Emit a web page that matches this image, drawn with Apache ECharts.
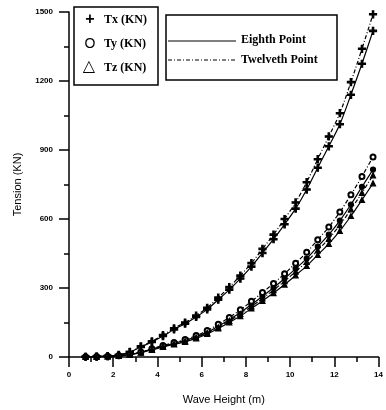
<!DOCTYPE html>
<html>
<head>
<meta charset="utf-8">
<script src="https://cdn.jsdelivr.net/npm/echarts@6/dist/echarts.min.js"></script>
<style>
  html, body { margin: 0; padding: 0; background: #fff; }
  #chart { width: 386px; height: 410px; }
</style>
</head>
<body>
<div id="chart"></div>
<script>
// wave height (m)
var waveHeight = [0.75, 1.25, 1.75, 2.25, 2.75, 3.25, 3.75, 4.25, 4.75, 5.25, 5.75, 6.25, 6.75, 7.25,
  7.75, 8.25, 8.75, 9.25, 9.75, 10.25, 10.75, 11.25, 11.75, 12.25, 12.75, 13.25, 13.75];

// tension (KN), eighth point
var txEighth = [1, 2, 4, 8, 21, 44, 65, 91, 120, 145, 174, 207, 249, 293,
  341, 393, 452, 512, 577, 645, 728, 823, 916, 1012, 1140, 1275, 1418];
var tyEighth = [1, 2, 3, 6, 11, 21, 34, 47, 59, 72, 88, 108, 134, 162,
  193, 228, 264, 301, 341, 384, 428, 480, 532, 593, 663, 740, 815];
var tzEighth = [1, 2, 3, 5, 10, 19, 31, 44, 55, 66, 81, 100, 124, 150,
  178, 211, 244, 278, 315, 355, 396, 444, 492, 548, 613, 683, 755];

// tension (KN), twelveth point
var txTwelveth = [1, 2, 4, 9, 22, 46, 68, 95, 125, 150, 180, 214, 258, 304,
  354, 408, 470, 532, 600, 672, 760, 860, 959, 1060, 1195, 1340, 1490];
var tyTwelveth = [1, 2, 3, 6, 12, 22, 36, 50, 63, 76, 93, 115, 142, 172,
  205, 242, 280, 320, 362, 408, 455, 510, 565, 630, 705, 785, 870];
var tzTwelveth = [1, 2, 3, 5, 11, 20, 33, 46, 57, 69, 85, 105, 129, 157,
  187, 220, 255, 291, 330, 371, 414, 464, 514, 573, 642, 714, 790];

var chart = echarts.init(document.getElementById("chart"));

var plusIcon = "path://M4,0h2v4h4v2h-4v4h-2v-4h-4v-2h4z";
var serif = "Liberation Serif";
var sans = "Liberation Sans";

function pairs(ys) {
  return waveHeight.map(function (h, i) { return [h, ys[i]]; });
}

function makeSeries(name, ys, symbol, dashed) {
  return {
    name: name,
    type: "line",
    data: pairs(ys),
    smooth: 0.3,
    symbol: symbol,
    symbolSize: symbol === plusIcon ? 7 : 5,
    itemStyle: { color: "#000", borderColor: "#000", borderWidth: 1.2 },
    lineStyle: { color: "#000", width: 1.2, type: dashed ? [4, 2, 1, 2] : "solid" },
    animation: false
  };
}

var option = {
  backgroundColor: "#fff",
  animation: false,
  grid: { left: 69, right: 4, top: 12, bottom: 48 },
  xAxis: {
    type: "value",
    min: 0, max: 14, interval: 2,
    name: "Wave Height (m)",
    nameLocation: "middle",
    nameGap: 37,
    nameTextStyle: { color: "#000", fontFamily: sans, fontSize: 11 },
    axisLine: { lineStyle: { color: "#000", width: 1.5 } },
    axisTick: { length: 10, lineStyle: { color: "#000", width: 1.5 } },
    minorTick: { show: true, splitNumber: 2, length: 5, lineStyle: { color: "#000", width: 1.5 } },
    axisLabel: { color: "#000", fontFamily: sans, fontWeight: "bold", fontSize: 8, margin: 14 },
    splitLine: { show: false }
  },
  yAxis: {
    type: "value",
    min: 0, max: 1500, interval: 300,
    name: "Tension (KN)",
    nameLocation: "middle",
    nameGap: 46,
    nameTextStyle: { color: "#000", fontFamily: sans, fontSize: 11 },
    axisLine: { show: true, lineStyle: { color: "#000", width: 1.5 } },
    axisTick: { show: true, length: 10, lineStyle: { color: "#000", width: 1.5 } },
    minorTick: { show: true, splitNumber: 2, length: 5, lineStyle: { color: "#000", width: 1.5 } },
    axisLabel: {
      color: "#000", fontFamily: sans, fontWeight: "bold", fontSize: 8, margin: 16,
      formatter: function (v) { return String(v); }
    },
    splitLine: { show: false }
  },
  series: [
    makeSeries("Tx Eighth", txEighth, plusIcon, false),
    makeSeries("Ty Eighth", tyEighth, "circle", false),
    makeSeries("Tz Eighth", tzEighth, "triangle", false),
    makeSeries("Tx Twelveth", txTwelveth, plusIcon, true),
    makeSeries("Ty Twelveth", tyTwelveth, "emptyCircle", true),
    makeSeries("Tz Twelveth", tzTwelveth, "triangle", true)
  ],
  graphic: [
    // symbol legend
    { type: "rect", z: 100, shape: { x: 74, y: 7, width: 84, height: 78 },
      style: { fill: "#fff", stroke: "#000", lineWidth: 1.5 } },
    { type: "text", z: 101, x: 90, y: 20, style: { text: "+", fill: "#000", font: "bold 16px " + sans, align: "center", verticalAlign: "middle" } },
    { type: "text", z: 101, x: 90, y: 44, style: { text: "O", fill: "#000", font: "14px " + sans, align: "center", verticalAlign: "middle" } },
    { type: "text", z: 101, x: 89, y: 67, style: { text: "△", fill: "#000", font: "16px DejaVu Sans", align: "center", verticalAlign: "middle" } },
    { type: "text", z: 101, x: 104, y: 20, style: { text: "Tx (KN)", fill: "#000", font: "bold 12px " + serif, verticalAlign: "middle" } },
    { type: "text", z: 101, x: 104, y: 44, style: { text: "Ty (KN)", fill: "#000", font: "bold 12px " + serif, verticalAlign: "middle" } },
    { type: "text", z: 101, x: 104, y: 68, style: { text: "Tz (KN)", fill: "#000", font: "bold 12px " + serif, verticalAlign: "middle" } },
    // line legend
    { type: "rect", z: 100, shape: { x: 166, y: 15, width: 171, height: 65 },
      style: { fill: "#fff", stroke: "#000", lineWidth: 1.5 } },
    { type: "line", z: 101, shape: { x1: 168, y1: 41, x2: 236, y2: 41 },
      style: { stroke: "#000", lineWidth: 1.2 } },
    { type: "line", z: 101, shape: { x1: 168, y1: 60, x2: 236, y2: 60 },
      style: { stroke: "#000", lineWidth: 1.2, lineDash: [4, 2, 1, 2] } },
    { type: "text", z: 101, x: 241, y: 40, style: { text: "Eighth Point", fill: "#000", font: "bold 12px " + serif, verticalAlign: "middle" } },
    { type: "text", z: 101, x: 241, y: 60, style: { text: "Twelveth Point", fill: "#000", font: "bold 12px " + serif, verticalAlign: "middle" } }
  ]
};

chart.setOption(option);
</script>
</body>
</html>
